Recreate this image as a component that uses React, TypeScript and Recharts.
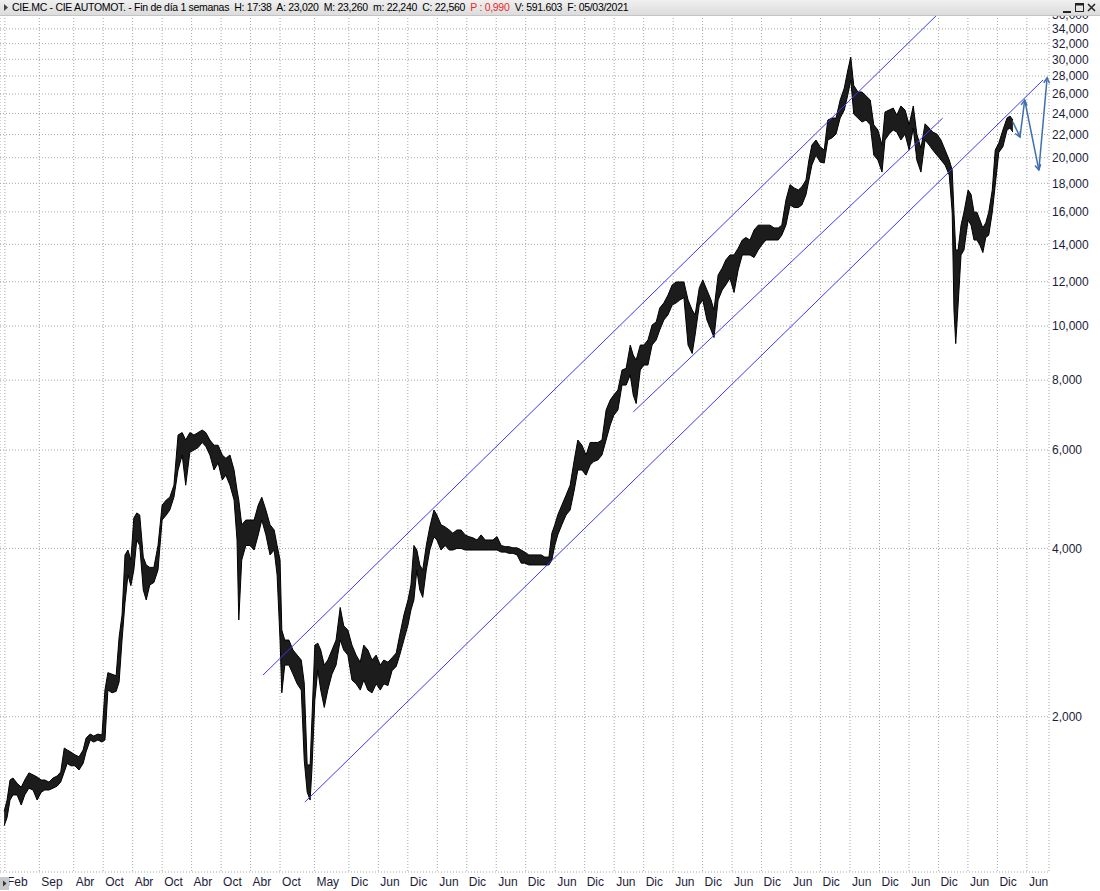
import { Area, CartesianGrid, ComposedChart, ReferenceLine, XAxis, YAxis } from "recharts"

// weekly ranges, sampled ~every 3-4 weeks (decimal year, high, low)
const dates = [
  2004.07, 2004.12, 2004.17, 2004.22, 2004.29, 2004.36, 2004.42, 2004.49, 2004.56, 2004.63,
  2004.70, 2004.76, 2004.83, 2004.90, 2004.97, 2005.03, 2005.09, 2005.14, 2005.20, 2005.27,
  2005.34, 2005.41, 2005.46, 2005.53, 2005.59, 2005.66, 2005.73, 2005.78, 2005.83, 2005.90,
  2005.97, 2006.02, 2006.07, 2006.12, 2006.17, 2006.22, 2006.27, 2006.32, 2006.37, 2006.43,
  2006.48, 2006.54, 2006.61, 2006.68, 2006.75, 2006.82, 2006.88, 2006.95, 2007.02, 2007.09,
  2007.15, 2007.22, 2007.29, 2007.36, 2007.43, 2007.49, 2007.56, 2007.63, 2007.70, 2007.77,
  2007.83, 2007.90, 2007.97, 2008.02, 2008.05, 2008.10, 2008.17, 2008.24, 2008.31, 2008.38,
  2008.44, 2008.51, 2008.58, 2008.65, 2008.70, 2008.75, 2008.78, 2008.83, 2008.90, 2008.97,
  2009.04, 2009.11, 2009.16, 2009.21, 2009.26, 2009.29, 2009.34, 2009.39, 2009.44, 2009.50,
  2009.56, 2009.63, 2009.70, 2009.77, 2009.83, 2009.90, 2009.97, 2010.04, 2010.11, 2010.17,
  2010.24, 2010.31, 2010.38, 2010.45, 2010.51, 2010.58, 2010.65, 2010.72, 2010.78, 2010.85,
  2010.92, 2010.97, 2011.02, 2011.07, 2011.12, 2011.17, 2011.23, 2011.29, 2011.36, 2011.41,
  2011.48, 2011.55, 2011.62, 2011.68, 2011.75, 2011.82, 2011.89, 2011.95, 2012.02, 2012.09,
  2012.16, 2012.23, 2012.29, 2012.36, 2012.43, 2012.50, 2012.57, 2012.63, 2012.70, 2012.77,
  2012.84, 2012.90, 2012.97, 2013.04, 2013.11, 2013.18, 2013.24, 2013.31, 2013.36, 2013.41,
  2013.46, 2013.53, 2013.60, 2013.67, 2013.74, 2013.80, 2013.87, 2013.94, 2014.01, 2014.07,
  2014.14, 2014.21, 2014.28, 2014.35, 2014.41, 2014.48, 2014.55, 2014.62, 2014.69, 2014.74,
  2014.79, 2014.86, 2014.92, 2014.99, 2015.06, 2015.13, 2015.19, 2015.26, 2015.33, 2015.40,
  2015.47, 2015.53, 2015.60, 2015.67, 2015.74, 2015.79, 2015.86, 2015.92, 2015.99, 2016.06,
  2016.11, 2016.18, 2016.25, 2016.31, 2016.38, 2016.45, 2016.52, 2016.59, 2016.65, 2016.72,
  2016.79, 2016.86, 2016.92, 2016.99, 2017.06, 2017.13, 2017.20, 2017.26, 2017.33, 2017.40,
  2017.47, 2017.54, 2017.60, 2017.67, 2017.72, 2017.77, 2017.84, 2017.91, 2017.98, 2018.04,
  2018.11, 2018.18, 2018.25, 2018.32, 2018.38, 2018.43, 2018.48, 2018.55, 2018.62, 2018.69,
  2018.76, 2018.82, 2018.89, 2018.96, 2019.01, 2019.08, 2019.15, 2019.21, 2019.28, 2019.35,
  2019.42, 2019.49, 2019.55, 2019.62, 2019.69, 2019.76, 2019.82, 2019.89, 2019.96, 2020.03,
  2020.10, 2020.15, 2020.18, 2020.21, 2020.25, 2020.30, 2020.35, 2020.42, 2020.47, 2020.52,
  2020.57, 2020.62, 2020.67, 2020.72, 2020.77, 2020.83, 2020.88, 2020.94, 2021.01, 2021.08,
  2021.13, 2021.18,
]

const highs = [
  1354, 1419, 1541, 1554, 1520, 1496, 1541, 1587, 1574, 1560,
  1541, 1541, 1528, 1554, 1567, 1593, 1758, 1744, 1730, 1710,
  1696, 1744, 1832, 1862, 1847, 1862, 1855, 2232, 2398, 2383,
  2368, 2776, 3040, 3895, 3974, 3814, 4535, 4630, 4592, 3860,
  3737, 3700, 3700, 4049, 4783, 4883, 4940, 5190, 6382, 6448,
  6252, 6448, 6382, 6448, 6515, 6448, 6252, 6120, 6120, 5878,
  5800, 5878, 5526, 5088, 4883, 4410, 4497, 4497, 4497, 4783,
  4940, 4686, 4410, 4316, 4049, 3814, 2858, 2743, 2743, 2632,
  2578, 2526, 2300, 1640, 1640, 1973, 2686, 2708, 2632, 2474,
  2526, 2632, 2743, 3137, 2908, 2858, 2686, 2578, 2504, 2686,
  2632, 2526, 2578, 2474, 2526, 2504, 2550, 2600, 2800, 3040,
  3235, 3441, 4049, 3974, 3737, 3660, 4049, 4371, 4686, 4592,
  4410, 4371, 4316, 4260, 4316, 4316, 4230, 4200, 4180, 4142,
  4230, 4142, 4142, 4142, 4200, 4049, 4030, 4030, 4010, 4010,
  3974, 3940, 3895, 3895, 3895, 3895, 3860, 3860, 4260, 4410,
  4592, 4783, 4980, 5190, 5758, 6252, 6120, 5878, 6190, 6190,
  6190, 6252, 7074, 7372, 7525, 7682, 8341, 8400, 9245, 8870,
  8692, 9245, 9245, 9441, 10040, 10170, 10770, 11000, 11360, 11840,
  11990, 11990, 11990, 11131, 10683, 10470, 11700, 12087, 11600, 11131,
  10683, 12340, 12700, 13123, 13400, 13400, 13780, 14250, 14400, 14250,
  14849, 15150, 15150, 15150, 15150, 14980, 14980, 15150, 16802, 17900,
  17660, 17509, 17740, 18245, 19811, 21070, 21513, 20930, 20644, 23360,
  23550, 23550, 25366, 26650, 28701, 30270, 26960, 26220, 26220, 25800,
  25366, 22900, 22418, 21070, 24140, 24342, 24540, 23840, 24750, 24342,
  22900, 24750, 22050, 20800, 23000, 22600, 22230, 22050, 21513, 20644,
  19811, 19012, 15980, 13675, 13675, 15150, 15980, 17509, 17200, 15980,
  15980, 15474, 14980, 15300, 15980, 17509, 20644, 21240, 22418, 23550,
  23750, 23360,
]

const lows = [
  1276, 1320, 1419, 1449, 1449, 1390, 1449, 1490, 1479, 1419,
  1466, 1479, 1479, 1490, 1503, 1528, 1593, 1650, 1634, 1634,
  1606, 1650, 1730, 1817, 1802, 1817, 1802, 1817, 2232, 2207,
  2220, 2307, 2743, 3198, 3587, 3432, 3660, 4142, 4049, 3371,
  3235, 3441, 3476, 3660, 4497, 4590, 4686, 4940, 5526, 5878,
  5190, 5944, 6000, 6060, 6190, 6090, 5878, 5526, 5690, 5303,
  5410, 5190, 4883, 4142, 2979, 3814, 4049, 4049, 3974, 4230,
  4497, 4230, 3895, 3974, 3587, 2743, 2207, 2474, 2474, 2383,
  2290, 2232, 1673, 1466, 1419, 1606, 2142, 2424, 2232, 2078,
  2232, 2383, 2474, 2743, 2632, 2578, 2326, 2290, 2232, 2326,
  2232, 2207, 2290, 2232, 2290, 2274, 2418, 2460, 2578, 2743,
  2918, 3104, 3235, 3660, 3371, 3270, 3660, 3974, 4196, 4142,
  3974, 4049, 3974, 3974, 4000, 4000, 3974, 3974, 3974, 3974,
  3974, 3974, 3974, 3974, 3974, 3940, 3940, 3920, 3920, 3895,
  3765, 3765, 3737, 3737, 3737, 3737, 3737, 3737, 3814, 4049,
  4230, 4410, 4590, 4686, 5088, 5526, 5526, 5410, 5640, 5720,
  5758, 5878, 6252, 6650, 6920, 7074, 7840, 7840, 8175, 7525,
  7265, 8341, 8515, 8515, 9245, 9441, 9838, 10252, 10470, 10900,
  11000, 11131, 11240, 9245, 8930, 9640, 10900, 11131, 10252, 9838,
  9535, 11131, 11600, 11840, 12180, 11480, 12595, 13400, 13400, 13400,
  13260, 13675, 13960, 14250, 14250, 14250, 14250, 14540, 15150, 16460,
  16290, 16290, 16460, 17170, 18245, 19400, 20220, 19650, 19570, 21513,
  21700, 22050, 23550, 24342, 25930, 27543, 23950, 23550, 23170, 23360,
  22900, 20220, 19811, 18850, 21513, 22050, 22418, 22230, 21513, 22050,
  20644, 22600, 19811, 18850, 21513, 21070, 20644, 20220, 19811, 19400,
  18620, 15980, 10683, 9300, 10900, 13400, 13675, 15474, 15150, 14250,
  14250, 13960, 13530, 14400, 14540, 15980, 17870, 20430, 20930, 22418,
  22600, 22230,
]

// x-axis grid (month starts) and their labels
const gridDates = [
  2004.083, 2004.667, 2005.25, 2005.75, 2006.25, 2006.75, 2007.25, 2007.75, 2008.25, 2008.75,
  2009.333, 2009.917, 2010.417, 2010.917, 2011.417, 2011.917, 2012.417, 2012.917, 2013.417, 2013.917,
  2014.417, 2014.917, 2015.417, 2015.917, 2016.417, 2016.917, 2017.417, 2017.917, 2018.417, 2018.917,
  2019.417, 2019.917, 2020.417, 2020.917, 2021.417,
]
const monthLabels = [
  "Feb", "Sep", "Abr", "Oct", "Abr", "Oct", "Abr", "Oct", "Abr", "Oct",
  "May", "Dic", "Jun", "Dic", "Jun", "Dic", "Jun", "Dic", "Jun", "Dic",
  "Jun", "Dic", "Jun", "Dic", "Jun", "Dic", "Jun", "Dic", "Jun", "Dic",
  "Jun", "Dic", "Jun", "Dic", "Jun",
]

const priceTicks = [
  2000, 4000, 6000, 8000, 10000, 12000, 14000, 16000, 18000, 20000,
  22000, 24000, 26000, 28000, 30000, 32000, 34000, 36000,
]

// channel lines (start / end)
const channelStartDates = [2008.46, 2009.17, 2014.74]
const channelStartPrices = [2374, 1407, 7018]
const channelEndDates = [2019.89, 2021.69, 2019.99]
const channelEndPrices = [36000, 27543, 23550]

// projected path drawn as arrows
const arrowDates = [2021.18, 2021.3, 2021.38, 2021.62, 2021.76]
const arrowPrices = [23170, 21780, 25370, 19010, 27800]

const font = "Arial, 'Liberation Sans', sans-serif"

const rows = dates.map((d, i) => ({ date: d, range: [lows[i], highs[i]] }))

const MonthTick = (props: any) => {
  const { x, y, payload } = props
  const i = gridDates.indexOf(payload.value)
  return (
    <text x={x + 2} y={y + 14} fontSize={12} fontFamily={font} fill="#1c1c3a">
      {monthLabels[i]}
    </text>
  )
}

const PriceTick = (props: any) => {
  const { x, y, payload } = props
  return (
    <text x={x + 3} y={y} dy="0.36em" fontSize={12} fontFamily={font} fill="#1c1c3a">
      {payload.value.toLocaleString("en-US")}
    </text>
  )
}

const ArrowShape = (props: any) => {
  const { x1, y1, x2, y2 } = props
  const a = Math.atan2(y2 - y1, x2 - x1)
  const len = 6
  const hx1 = x2 - len * Math.cos(a - 0.5)
  const hy1 = y2 - len * Math.sin(a - 0.5)
  const hx2 = x2 - len * Math.cos(a + 0.5)
  const hy2 = y2 - len * Math.sin(a + 0.5)
  return (
    <g>
      <line x1={x1} y1={y1} x2={x2} y2={y2} stroke="#3f6fae" strokeWidth={1.5} />
      <path d={`M${hx1},${hy1} L${x2},${y2} L${hx2},${hy2}`} fill="none" stroke="#3f6fae" strokeWidth={1.5} />
    </g>
  )
}

export default function App() {
  return (
    <div style={{ position: "absolute", left: 0, top: 0, width: 1100, height: 891, background: "#fff" }}>
      <ComposedChart width={1100} height={891} data={rows} margin={{ top: 0, right: 0, bottom: 0, left: 0 }}>
        <CartesianGrid stroke="#a6a6a6" strokeDasharray="1 2" />
        <XAxis
          dataKey="date"
          type="number"
          domain={[2004, 2021.792]}
          ticks={gridDates}
          interval={0}
          height={19}
          axisLine={false}
          tickLine={false}
          tickSize={0}
          tickMargin={0}
          tick={MonthTick}
          allowDataOverflow
        />
        <YAxis
          orientation="right"
          scale="log"
          domain={[1055, 38300]}
          ticks={priceTicks}
          interval={0}
          width={51}
          axisLine={false}
          tickLine={false}
          tickSize={0}
          tickMargin={0}
          tick={PriceTick}
          allowDataOverflow
        />
        <Area
          dataKey="range"
          type="linear"
          stroke="#000"
          strokeWidth={1}
          fill="#1c1c1c"
          fillOpacity={1}
          dot={false}
          activeDot={false}
          isAnimationActive={false}
        />
        {channelStartDates.map((d, i) => (
          <ReferenceLine
            key={"ch" + i}
            segment={[
              { x: d, y: channelStartPrices[i] },
              { x: channelEndDates[i], y: channelEndPrices[i] },
            ]}
            stroke="#3a3af2"
            strokeWidth={1}
            ifOverflow="visible"
          />
        ))}
        {arrowDates.slice(1).map((d, i) => (
          <ReferenceLine
            key={"ar" + i}
            segment={[
              { x: arrowDates[i], y: arrowPrices[i] },
              { x: d, y: arrowPrices[i + 1] },
            ]}
            shape={ArrowShape}
            ifOverflow="visible"
          />
        ))}
      </ComposedChart>

      <div
        style={{
          position: "absolute",
          left: 0,
          top: 0,
          width: 1100,
          height: 15,
          background: "linear-gradient(#f0f0f0, #dcdcdc)",
          borderBottom: "1px solid #c4c4c4",
          fontFamily: font,
          fontSize: 10.5,
          letterSpacing: -0.3,
          lineHeight: "15px",
          color: "#000",
          whiteSpace: "pre",
        }}
      >
        <svg width={8} height={15} style={{ position: "absolute", left: 2, top: 0 }}>
          <path d="M2,4 L6,7.5 L2,11 Z" fill="#444" />
        </svg>
        <span style={{ position: "absolute", left: 12, top: 0 }}>
          {"CIE.MC - CIE AUTOMOT. - Fin de día 1 semanas  H: 17:38  A: 23,020  M: 23,260  m: 22,240  C: 22,560  "}
          <span style={{ color: "#e8292b" }}>P : 0,990</span>
          {"  V: 591.603  F: 05/03/2021"}
        </span>
        <svg width={40} height={15} style={{ position: "absolute", left: 1060, top: 0 }}>
          <line x1={3} y1={12} x2={11} y2={12} stroke="#222" strokeWidth={2} />
          <rect x={15.5} y={3.5} width={8} height={8} fill="none" stroke="#222" />
          <line x1={15.5} y1={4.5} x2={23.5} y2={4.5} stroke="#222" strokeWidth={2} />
          <path d="M28,4 L35,11 M35,4 L28,11" stroke="#222" strokeWidth={1.5} />
        </svg>
      </div>

      <svg width={9} height={13} style={{ position: "absolute", left: 0, top: 877 }}>
        <rect x={0} y={0} width={9} height={13} fill="#c8c8c8" />
        <path d="M3,3.5 L6.5,6.5 L3,9.5 Z" fill="#333" />
      </svg>
    </div>
  )
}
